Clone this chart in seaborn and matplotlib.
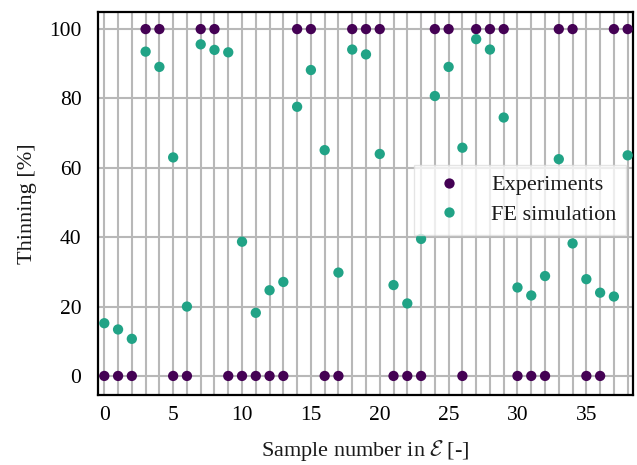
import numpy as np
import pandas as pd
import matplotlib
matplotlib.use("Agg")
import matplotlib.pyplot as plt
import seaborn as sns

samples = list(range(39))
experiments = [0, 0, 0, 100, 100, 0, 0, 100, 100, 0,
               0, 0, 0, 0, 100, 100, 0, 0, 100, 100,
               100, 0, 0, 0, 100, 100, 0, 100, 100, 100,
               0, 0, 0, 100, 100, 0, 0, 100, 100]
fe_simulation = [15.2, 13.4, 10.7, 93.5, 89.1, 63.0, 20.0, 95.6, 94.0, 93.3,
                 38.7, 18.2, 24.7, 27.1, 77.6, 88.2, 65.1, 29.8, 94.1, 92.7,
                 64.0, 26.2, 20.9, 39.5, 80.7, 89.1, 65.8, 97.1, 94.1, 74.5,
                 25.5, 23.2, 28.8, 62.5, 38.2, 27.9, 24.0, 22.9, 63.6]
series_names = ["Experiments", "FE simulation"]
colors = ["#440154", "#21a386"]

df = pd.DataFrame({
    "sample": samples * 2,
    "value": experiments + fe_simulation,
    "series": [series_names[0]] * len(samples) + [series_names[1]] * len(samples),
})

sns.set_theme(style="white")
plt.rcParams["font.family"] = ["Liberation Serif", "DejaVu Serif"]
plt.rcParams["mathtext.fontset"] = "cm"
plt.rcParams["text.color"] = "black"
plt.rcParams["axes.labelcolor"] = "black"

fig = plt.figure(figsize=(6.37, 4.65), dpi=100)
ax = fig.add_axes([0.154, 0.1505, 0.84, 0.8235])

sns.scatterplot(data=df, x="sample", y="value", hue="series",
                palette=dict(zip(series_names, colors)), s=55, linewidth=0,
                ax=ax, zorder=3)

ax.set_xlim(-0.45, 38.4)
ax.set_ylim(-5.5, 104.9)
ax.set_xticks(samples)
ax.set_xticklabels([str(i) if i % 5 == 0 else "" for i in samples])
ax.set_yticks([0, 20, 40, 60, 80, 100])
ax.grid(True, color="#b8b8b8", linewidth=1.5, zorder=0)
ax.set_axisbelow(True)
ax.tick_params(axis="both", direction="in", width=1.2,
               labelsize=15.5, colors="black")
ax.tick_params(axis="x", length=4, pad=8)
ax.tick_params(axis="y", length=8, pad=12)
for sp in ax.spines.values():
    sp.set_color("black")
    sp.set_linewidth(1.6)

ax.set_xlabel(r"Sample number in $\mathcal{E}$ [-]", fontsize=16, labelpad=9,
              color="#1a1a1a")
ax.set_ylabel("Thinning [%]", fontsize=16, labelpad=9, color="#1a1a1a")

leg = ax.legend(loc="center right", bbox_to_anchor=(1.008, 0.51), fontsize=16,
                frameon=True, framealpha=0.75, edgecolor="#dddddd",
                fancybox=False, handletextpad=0.8, borderpad=0.45,
                labelspacing=0.4, handlelength=2.2)
leg.get_frame().set_linewidth(1.0)
for t in leg.get_texts():
    t.set_color("#1a1a1a")

fig.savefig("out.png", dpi=100)
